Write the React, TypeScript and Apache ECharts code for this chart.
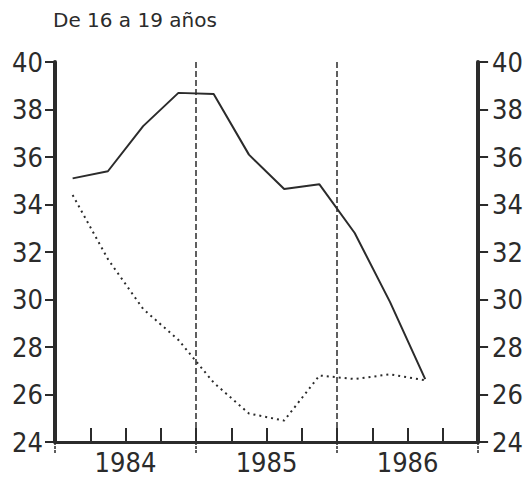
import React, { useEffect, useRef } from "react";
import * as echarts from "echarts";

const title = "De 16 a 19 años";
const quarters = [
  "1984-I", "1984-II", "1984-III", "1984-IV",
  "1985-I", "1985-II", "1985-III", "1985-IV",
  "1986-I", "1986-II", "1986-III", "1986-IV",
];
const years = ["1984", "1985", "1986"];
const solidSeries = [35.1, 35.4, 37.3, 38.7, 38.65, 36.1, 34.65, 34.85, 32.8, 29.9, 26.65];
const dottedSeries = [34.4, 31.7, 29.6, 28.3, 26.5, 25.2, 24.9, 26.8, 26.65, 26.85, 26.6];

const INK = "#2b2b2b";
const NARROW = "'DejaVu Sans Condensed', 'Liberation Sans Narrow', sans-serif";

export default function App() {
  const ref = useRef<HTMLDivElement>(null);
  useEffect(() => {
    if (!ref.current) return;
    const chart = echarts.init(ref.current, undefined, { renderer: "svg" });
    const yAxisCommon = {
      type: "value",
      min: 24,
      max: 40,
      interval: 2,
      axisLine: { show: true, lineStyle: { color: INK, width: 4 } },
      axisTick: { show: true, inside: false, length: 10, lineStyle: { color: INK, width: 2 } },
      splitLine: { show: false },
      axisLabel: { color: INK, fontFamily: NARROW, fontSize: 27 },
    };
    chart.setOption({
      animation: false,
      backgroundColor: "#ffffff",
      graphic: [
        {
          type: "text",
          left: 53,
          top: 10,
          style: { text: title, fill: INK, font: "20px 'DejaVu Sans', sans-serif" },
        },
      ],
      grid: { left: 55, right: 43, top: 62, bottom: 42 },
      xAxis: [
        {
          type: "category",
          data: quarters,
          boundaryGap: true,
          position: "bottom",
          axisLine: { show: true, lineStyle: { color: INK, width: 3 } },
          axisTick: { show: true, inside: true, length: 14, interval: 0, lineStyle: { color: INK, width: 2 } },
          axisLabel: { show: false },
          splitLine: { show: false },
        },
        {
          type: "category",
          data: years,
          boundaryGap: true,
          position: "bottom",
          axisLine: { show: false },
          axisTick: { show: true, inside: false, length: 12, interval: 0, lineStyle: { color: INK, width: 1.5, type: [3, 1] } },
          axisLabel: { show: true, color: INK, fontFamily: NARROW, fontSize: 27, margin: 7 },
          splitLine: { show: true, interval: 0, lineStyle: { color: INK, width: 1.5, type: [6, 3] } },
        },
      ],
      yAxis: [
        { ...yAxisCommon, position: "left", axisLabel: { ...yAxisCommon.axisLabel, margin: 12 } },
        { ...yAxisCommon, position: "right", axisLabel: { ...yAxisCommon.axisLabel, margin: 14 } },
      ],
      series: [
        {
          type: "line",
          name: "solid",
          data: solidSeries,
          xAxisIndex: 0,
          yAxisIndex: 0,
          symbol: "none",
          lineStyle: { color: INK, width: 2, type: "solid" },
        },
        {
          type: "line",
          name: "dotted",
          data: dottedSeries,
          xAxisIndex: 0,
          yAxisIndex: 0,
          symbol: "none",
          lineStyle: { color: INK, width: 2, type: [2, 4] },
        },
      ],
    });
    return () => chart.dispose();
  }, []);
  return (
    <div
      ref={ref}
      style={{ position: "fixed", left: 0, top: 0, width: 526, height: 484, background: "#fff" }}
    />
  );
}
